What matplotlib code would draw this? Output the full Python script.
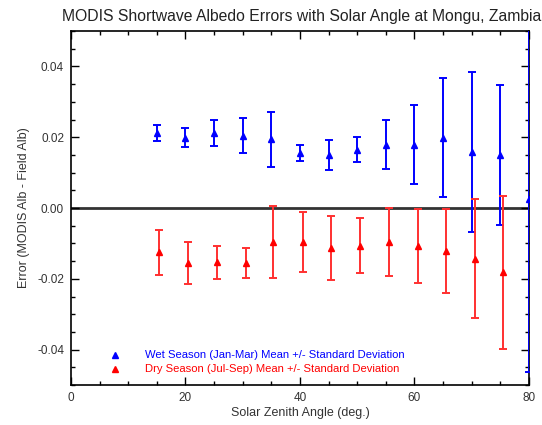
import matplotlib
matplotlib.use("Agg")
import matplotlib.pyplot as plt
from matplotlib.ticker import MultipleLocator

plt.rcParams['font.family'] = ['Liberation Sans', 'DejaVu Sans']

# Wet season (Jan-Mar)
wet_angle = [15, 20, 25, 30, 35, 40, 45, 50, 55, 60, 65, 70, 75, 80]
wet_mean = [0.0212, 0.0199, 0.0212, 0.0204, 0.0194, 0.0155, 0.0150, 0.0165,
            0.0179, 0.0179, 0.0199, 0.0159, 0.0150, 0.0026]
wet_std = [0.0022, 0.0028, 0.0036, 0.0049, 0.0077, 0.0022, 0.0043, 0.0036,
           0.0069, 0.0112, 0.0168, 0.0226, 0.0198, 0.0490]

# Dry season (Jul-Sep)
dry_angle = [15.4, 20.5, 25.5, 30.5, 35.3, 40.5, 45.5, 50.5, 55.5, 60.6, 65.5, 70.6, 75.5]
dry_mean = [-0.0125, -0.0156, -0.0153, -0.0156, -0.0097, -0.0095, -0.0112,
            -0.0106, -0.0096, -0.0108, -0.0122, -0.0143, -0.0182]
dry_std = [0.0064, 0.0059, 0.0047, 0.0042, 0.0102, 0.0085, 0.0090, 0.0077,
           0.0095, 0.0105, 0.0118, 0.0168, 0.0216]

title = "MODIS Shortwave Albedo Errors with Solar Angle at Mongu, Zambia"
xlabel = "Solar Zenith Angle (deg.)"
ylabel = "Error (MODIS Alb - Field Alb)"
wet_label = "Wet Season (Jan-Mar) Mean +/- Standard Deviation"
dry_label = "Dry Season (Jul-Sep) Mean +/- Standard Deviation"

blue = "#0000ff"
red = "#ff0000"

fig = plt.figure(figsize=(5.42, 4.25), dpi=100)
ax = fig.add_axes([0.131, 0.094, 0.845, 0.833])

ax.axhline(0, color="#333333", lw=2, zorder=1)

ax.errorbar(wet_angle, wet_mean, yerr=wet_std, fmt="^", color=blue, ms=5,
            ecolor=blue, elinewidth=1.4, capsize=3, capthick=1.4, zorder=3)
ax.errorbar(dry_angle, dry_mean, yerr=dry_std, fmt="^", color=red, ms=5,
            ecolor="#ff3030", elinewidth=1.4, capsize=3, capthick=1.4, zorder=3)

ax.set_xlim(0, 80)
ax.set_ylim(-0.05, 0.05)
ax.xaxis.set_major_locator(MultipleLocator(20))
ax.xaxis.set_minor_locator(MultipleLocator(5))
ax.yaxis.set_major_locator(MultipleLocator(0.02))
ax.yaxis.set_minor_locator(MultipleLocator(0.005))
ax.yaxis.set_major_formatter(plt.FuncFormatter(lambda v, p: f"{v:.2f}"))
ax.tick_params(which="both", direction="in", top=True, right=True,
               labelsize=8.5, labelcolor="#333333", pad=5)
ax.tick_params(which="major", length=6, width=1)
ax.tick_params(which="minor", length=3, width=1)
for s in ax.spines.values():
    s.set_linewidth(1.2)

ax.set_xlabel(xlabel, fontsize=9, color="#333333", labelpad=2)
ax.set_ylabel(ylabel, fontsize=9, color="#333333", labelpad=5)
fig.text(0.557, 0.962, title, ha="center", va="center", fontsize=11.3, color="#222222")

# Legend
ax.plot([0.096], [0.086], transform=ax.transAxes, marker="^", color=blue, ms=5, clip_on=False)
ax.plot([0.096], [0.044], transform=ax.transAxes, marker="^", color=red, ms=5, clip_on=False)
ax.text(0.162, 0.086, wet_label, transform=ax.transAxes, color=blue, fontsize=8.1, va="center")
ax.text(0.162, 0.044, dry_label, transform=ax.transAxes, color=red, fontsize=8.1, va="center")

fig.savefig("out.png", dpi=100)
